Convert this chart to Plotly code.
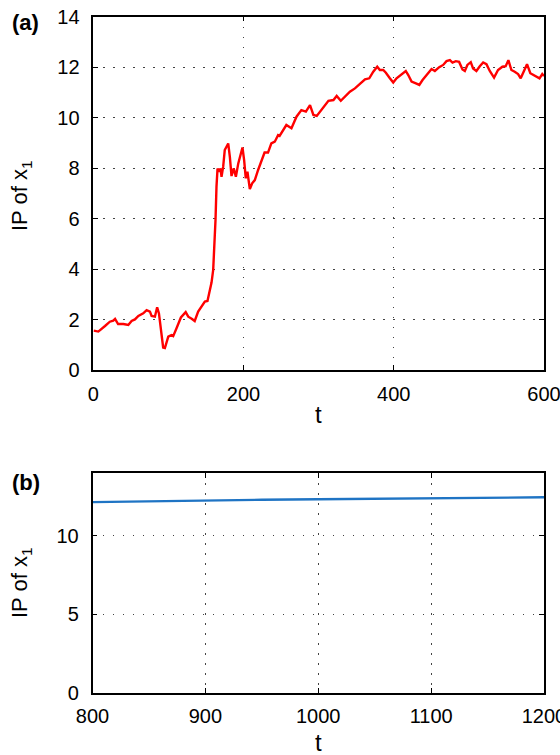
import plotly.graph_objects as go

# ---- panel (a) data ----
t_a = [0.5, 6.7, 15.6, 22, 26.6, 29, 33, 40, 46.6, 51, 55.4, 60, 66.5, 71, 75.4, 77.6, 82, 85, 87.4,
       91, 93, 95.3, 99.8, 104, 106.4, 110.8, 116.6, 123, 126.4, 131, 135, 139.6, 144, 148.5, 152,
       155, 157.4, 159.6, 161.4, 162.7, 164, 165.4, 167.6, 169.4, 170.7, 172.9, 175, 177.3, 179.6,
       181.8, 184, 187, 189.8, 193, 195, 198.6, 200.8, 203, 205.2, 208.4, 211.5, 215, 219.4, 224,
       228, 232.6, 237, 241.6, 246, 248, 257, 263.8, 270.5, 277, 283, 288.5, 293, 297.5, 302,
       306.4, 313, 319.7, 324, 329.5, 335, 341.6, 348.3, 355, 361.7, 367.4, 372.7, 378, 381.5,
       386, 389.5, 394.8, 399.3, 403.7, 410.3, 416, 419.3, 423.7, 429.5, 434, 438.3, 443.6,
       450.3, 454.7, 460.5, 465.8, 470.2, 474.7, 478.2, 482.6, 487, 491.5, 494.6, 498, 502.5,
       505.6, 510, 514.5, 519, 523.4, 527.8, 533.5, 538.8, 544.6, 549, 552.6, 556.6, 561, 565.5,
       569, 573, 577.4, 581.8, 586.3, 590.7, 594, 597.7, 600]
ip_a = [1.57, 1.53, 1.75, 1.92, 1.96, 2.03, 1.83, 1.83, 1.79, 1.95, 2.01, 2.15, 2.25, 2.38, 2.32,
        2.15, 2.12, 2.49, 2.25, 1.46, 0.90, 0.88, 1.33, 1.39, 1.35, 1.66, 2.09, 2.30, 2.12, 2.04,
        1.95, 2.32, 2.52, 2.72, 2.74, 3.18, 3.47, 3.97, 4.89, 5.95, 7.27, 7.99, 7.86, 7.99, 7.66,
        8.06, 8.72, 8.85, 8.98, 8.45, 7.69, 7.99, 7.66, 8.19, 8.45, 8.82, 8.32, 7.60, 7.86, 7.17,
        7.40, 7.53, 7.93, 8.29, 8.62, 8.62, 8.98, 9.05, 9.31, 9.28, 9.71, 9.58, 10.04, 10.30,
        10.24, 10.50, 10.11, 10.07, 10.24, 10.44, 10.67, 10.70, 10.86, 10.67, 10.83, 11.03,
        11.16, 11.36, 11.52, 11.56, 11.82, 12.02, 11.89, 11.89, 11.78, 11.56, 11.39, 11.56,
        11.73, 11.85, 11.69, 11.43, 11.36, 11.30, 11.49, 11.69, 11.93, 11.85, 12.00, 12.09,
        12.24, 12.28, 12.18, 12.24, 12.21, 11.91, 11.85, 12.09, 12.20, 11.95, 11.85, 12.04,
        12.19, 12.12, 11.85, 11.59, 11.89, 12.02, 12.04, 12.28, 11.89, 11.82, 11.73, 11.56,
        11.85, 12.12, 11.76, 11.69, 11.62, 11.56, 11.73, 11.65]

# ---- panel (b) data ----
t_b = [800, 850, 900, 950, 1000, 1050, 1100, 1150, 1200]
ip_b = [12.14, 12.20, 12.24, 12.29, 12.33, 12.36, 12.39, 12.42, 12.45]

x_ticks_a = [0, 200, 400, 600]
y_ticks_a = [0, 2, 4, 6, 8, 10, 12, 14]
x_ticks_b = [800, 900, 1000, 1100, 1200]
y_ticks_b = [0, 5, 10]

W, H = 560, 755
FONT = "Liberation Sans, Arial, sans-serif"

fig = go.Figure()
fig.add_trace(go.Scatter(x=t_a, y=ip_a, mode="lines", line=dict(color="#ff0000", width=2.4),
                         xaxis="x", yaxis="y", showlegend=False, hoverinfo="skip"))
fig.add_trace(go.Scatter(x=t_b, y=ip_b, mode="lines", line=dict(color="#1f74c4", width=2.4),
                         xaxis="x2", yaxis="y2", showlegend=False, hoverinfo="skip"))

def px_x(p):
    return p / W

def px_y(p):
    return 1 - p / H

common = dict(
    showline=True, linecolor="black", linewidth=1.5, mirror="ticks",
    ticks="inside", ticklen=5, tickwidth=1, tickcolor="black",
    showgrid=True, gridcolor="#444444", gridwidth=1, griddash="1.5px,8.5px",
    zeroline=False, tickfont=dict(family=FONT, size=20, color="black"),
    automargin=False, fixedrange=True, ticklabeloverflow="allow",
)

fig.update_layout(
    width=W, height=H, margin=dict(l=0, r=0, t=0, b=0),
    paper_bgcolor="white", plot_bgcolor="white",
    font=dict(family=FONT, color="black"),
    xaxis=dict(domain=[px_x(93.3), px_x(544)], range=[0, 600], tickvals=x_ticks_a,
               anchor="y", ticklabelstandoff=5, **common),
    yaxis=dict(domain=[px_y(370.2), px_y(16.7)], range=[0, 14], tickvals=y_ticks_a,
               anchor="x", ticklabelstandoff=8, **common),
    xaxis2=dict(domain=[px_x(92.5), px_x(544)], range=[800, 1200], tickvals=x_ticks_b,
                anchor="y2", ticklabelstandoff=5, **common),
    yaxis2=dict(domain=[px_y(692.5), px_y(473)], range=[0, 14], tickvals=y_ticks_b,
                anchor="x2", ticklabelstandoff=8, **common),
)

ann = []
def add_text(text, x, y, size, bold=False, angle=0):
    ann.append(dict(text=f"<b>{text}</b>" if bold else text, x=px_x(x), y=px_y(y),
                    xref="paper", yref="paper", showarrow=False, textangle=angle,
                    xanchor="center", yanchor="middle",
                    font=dict(family=FONT, size=size, color="black")))

add_text("(a)", 25, 22, 22, bold=True)
add_text("(b)", 26, 483, 22, bold=True)
add_text("IP of x<sub>1</sub>", 21, 196, 22, angle=-90)
add_text("IP of x<sub>1</sub>", 21, 583, 22, angle=-90)
add_text("t", 318, 414, 24)
add_text("t", 318, 742, 24)
fig.update_layout(annotations=ann)

fig.write_html("out.html")
